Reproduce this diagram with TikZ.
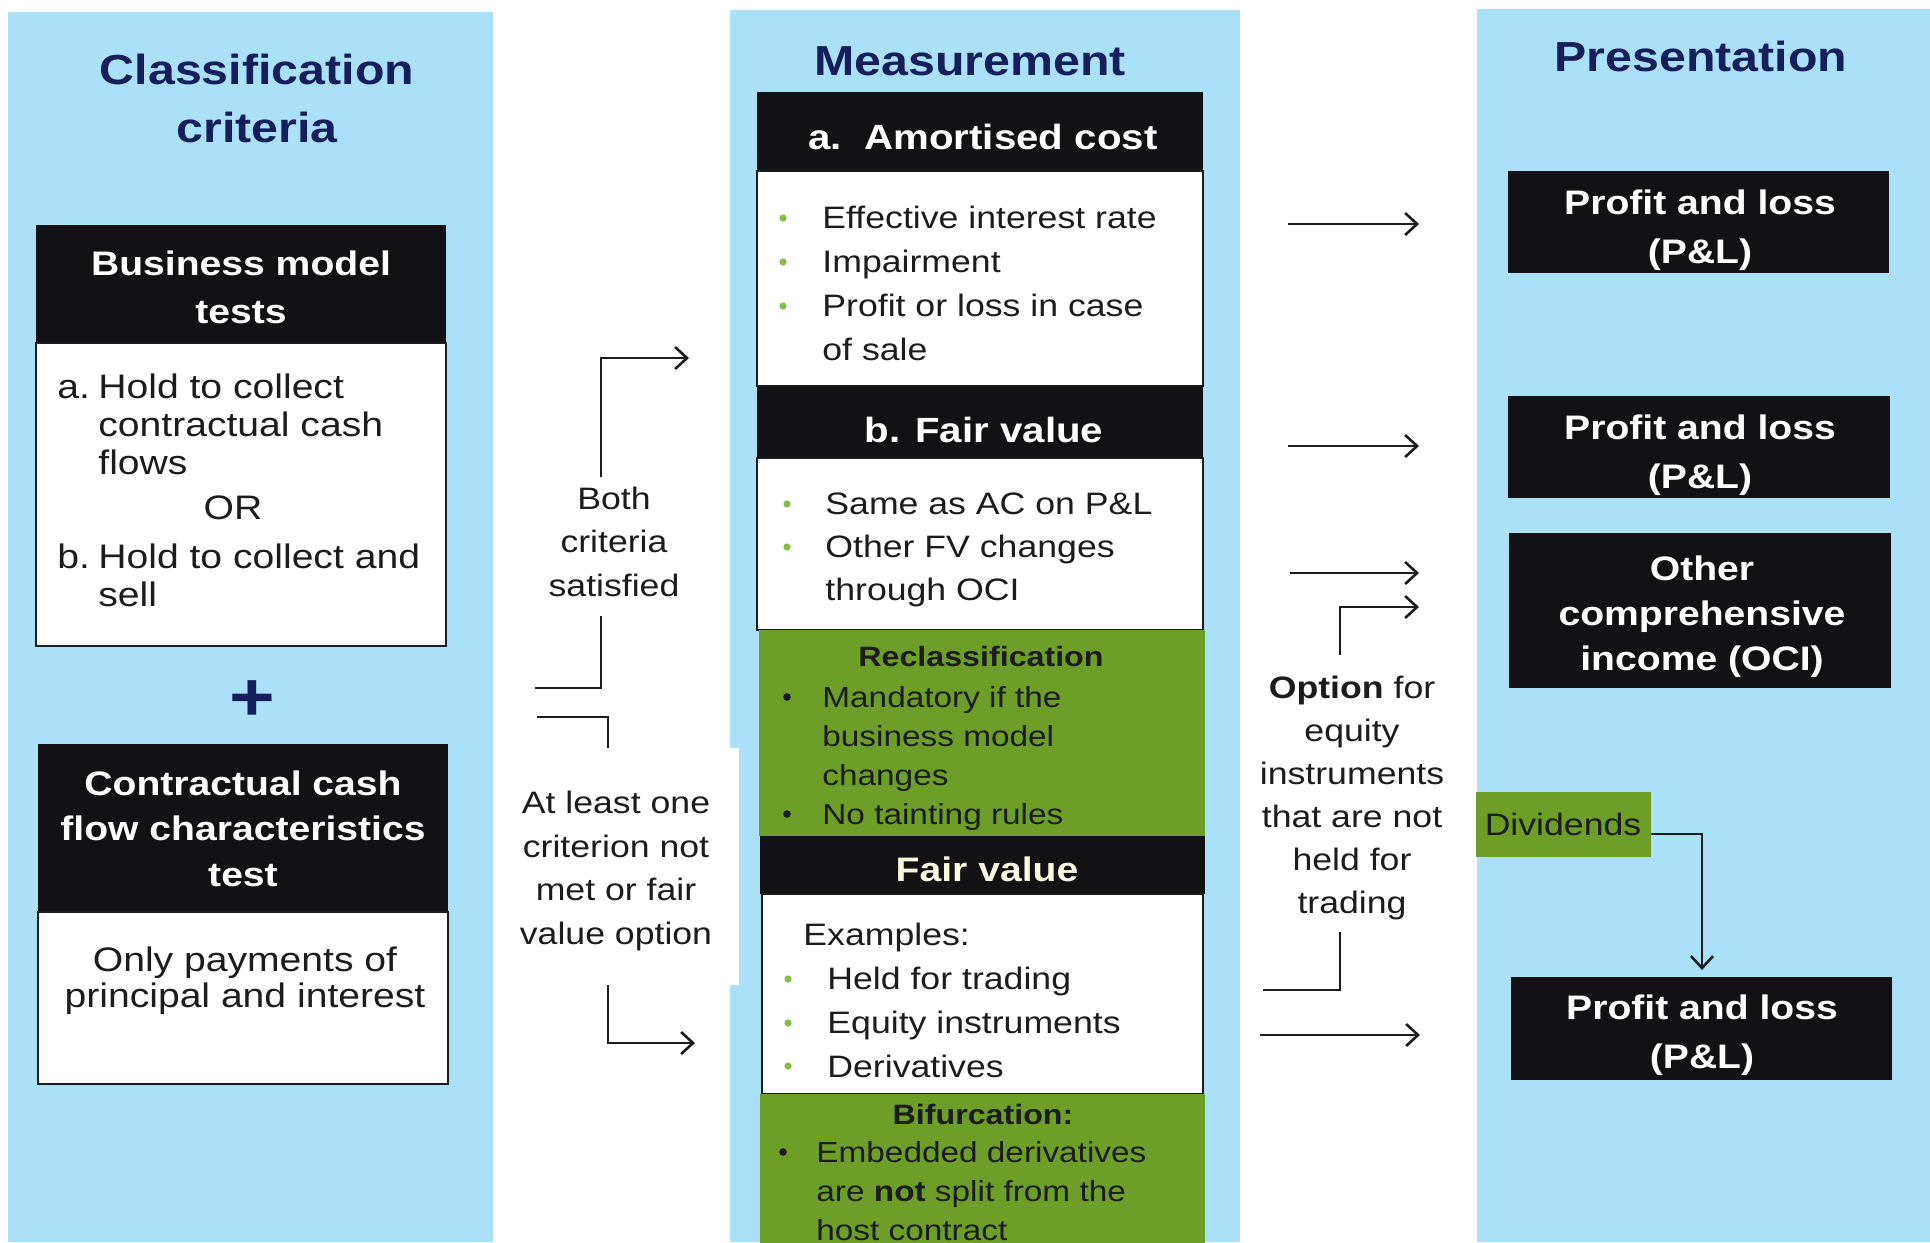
\documentclass[tikz,border=0pt]{standalone}
\usepackage{fontspec}
\setmainfont[FakeStretch=1.15]{Liberation Sans}
\usetikzlibrary{arrows.meta}
\definecolor{panelblue}{RGB}{170,225,248}
\definecolor{navy}{RGB}{22,30,92}
\definecolor{boxblack}{RGB}{18,18,20}
\definecolor{fgreen}{RGB}{108,158,40}
\definecolor{dotgreen}{RGB}{130,190,70}
\definecolor{cream}{RGB}{250,248,222}
\definecolor{ink}{RGB}{28,28,28}
\newcommand\fs[2]{\fontsize{#1}{#2}\selectfont}
\newcommand\rectnode[6]{\node[#1, inner sep=0pt, outer sep=0pt, minimum width={(#5-#3)*0.5pt}, minimum height={(#6-#4)*0.5pt}] (#2) at ({(#3+#5)/2},{(#4+#6)/2}) {};}
\tikzset{
  blackbox/.style={fill=boxblack, draw=none},
  whitebox/.style={fill=white, draw=ink, line width=1.1pt},
  greenbox/.style={fill=fgreen, draw=none},
  title/.style={text=navy, font=\fs{21}{29}\bfseries, align=center, inner sep=0pt},
  hdr/.style={text=white, font=\fs{17}{24}\bfseries, align=center, inner sep=0pt},
  lbody/.style={text=ink, font=\fs{17}{19}, inner sep=0pt},
  mhdr/.style={text=white, font=\fs{17.5}{22}\bfseries, align=center, inner sep=0pt},
  mbody/.style={text=ink, font=\fs{15.5}{22}, inner sep=0pt},
  ghdr/.style={text=ink, font=\fs{14}{19.5}\bfseries, align=center, inner sep=0pt},
  gbody/.style={text=ink, font=\fs{14.5}{19.5}, inner sep=0pt},
  fvhdr/.style={text=cream, font=\fs{17}{22}\bfseries, align=center, inner sep=0pt},
  free/.style={text=ink, font=\fs{15.5}{21.7}, align=center, inner sep=0pt},
  rhdr/.style={text=white, font=\fs{17}{24.5}\bfseries, align=center, inner sep=0pt},
  conn/.style={draw=ink, line width=1.3pt},
  arr/.style={conn, -{Straight Barb[length=6pt,width=11pt]}},
  gdot/.style={fill=dotgreen},
  kdot/.style={fill=ink},
}
\begin{document}
\begin{tikzpicture}[x=0.5pt,y=-0.5pt]
\useasboundingbox (0,0) rectangle (1930,1242);
\clip (0,0) rectangle (1930,1242);
\fill[white] (0,0) rectangle (1930,1242);
% panels
\fill[panelblue] (8,12) rectangle (493,1242);
\fill[panelblue] (730,10) rectangle (1240,1242);
\fill[panelblue] (1477,9) rectangle (1930,1242);
\fill[white] (728,748) rectangle (739,985);
% titles (base anchor = baseline of last line)
\node[title, anchor=base] (tcl) at (257,142) {Classification\\criteria};
\node[title, anchor=base] (tme) at (970,75) {Measurement};
\node[title, anchor=base] (tpr) at (1701,71) {Presentation};
% left column
\rectnode{blackbox}{bmh}{36}{225}{446}{343}
\rectnode{whitebox}{bmb}{36}{343}{446}{646}
\node[hdr, anchor=base] (bmt) at (241,323) {Business model\\tests};
\node[lbody, anchor=base west] (la) at (57,398) {a.};
\node[lbody, anchor=base west, align=left] (lat) at (98,474) {Hold to collect\\contractual cash\\flows};
\node[lbody, anchor=base] (lor) at (233,519) {OR};
\node[lbody, anchor=base west] (lb) at (57,568) {b.};
\node[lbody, anchor=base west, align=left] (lbt) at (98,606) {Hold to collect and\\sell};
\node[text=navy, font=\fs{34}{34}\bfseries, inner sep=0pt] (plus) at (252,701) {+};
\rectnode{blackbox}{cch}{38}{744}{448}{912}
\rectnode{whitebox}{ccb}{38}{912}{448}{1084}
\node[hdr, font=\fs{17}{22.75}\bfseries, anchor=base] (cct) at (243,886) {Contractual cash\\flow characteristics\\test};
\node[lbody, font=\fs{17}{18}, align=center, anchor=base] (lop) at (245,1007) {Only payments of\\principal and interest};
% middle column
\rectnode{blackbox}{ha}{757}{92}{1203}{171}
\node[mhdr, anchor=base] (hat) at (983,149) {a.\ \ Amortised cost};
\rectnode{whitebox}{ba}{757}{171}{1203}{386}
\node[mbody, anchor=base west, align=left] (bat) at (822,360) {Effective interest rate\\Impairment\\Profit or loss in case\\of sale};
\fill[gdot] (783,218) circle (3.6);
\fill[gdot] (783,262) circle (3.6);
\fill[gdot] (783,306) circle (3.6);
\rectnode{blackbox}{hb}{757}{386}{1203}{458}
\node[mhdr, anchor=base] (hbt) at (984,442) {b. Fair value};
\rectnode{whitebox}{bb}{757}{458}{1203}{630}
\node[mbody, font=\fs{15.5}{21.5}, anchor=base west, align=left] (bbt) at (825,600) {Same as AC on P\&L\\Other FV changes\\through OCI};
\fill[gdot] (787,504) circle (3.6);
\fill[gdot] (787,547) circle (3.6);
\rectnode{greenbox}{gr}{759}{630}{1205}{836}
\node[ghdr, anchor=base] (grt) at (981,666) {Reclassification};
\node[gbody, anchor=base west, align=left] (grb) at (822,824) {Mandatory if the\\business model\\changes\\No tainting rules};
\fill[kdot] (787,697) circle (3.8);
\fill[kdot] (787,814) circle (3.8);
\rectnode{blackbox}{hf}{760}{836}{1205}{894}
\node[fvhdr, anchor=base] (hft) at (987,881) {Fair value};
\rectnode{whitebox}{bf}{762}{894}{1203}{1094}
\node[mbody, anchor=base west] (bfx) at (803,945) {Examples:};
\node[mbody, anchor=base west, align=left] (bft) at (827,1077) {Held for trading\\Equity instruments\\Derivatives};
\fill[gdot] (788,979) circle (3.6);
\fill[gdot] (788,1023) circle (3.6);
\fill[gdot] (788,1066) circle (3.6);
\rectnode{greenbox}{gb}{760}{1094}{1205}{1250}
\node[ghdr, anchor=base] (gbt) at (983,1124) {Bifurcation:};
\node[gbody, anchor=base west, align=left] (gbb) at (816,1240) {Embedded derivatives\\are \textbf{not} split from the\\host contract};
\fill[kdot] (783,1152) circle (3.8);
% free texts between columns
\node[free, anchor=base] (both) at (614,596) {Both\\criteria\\satisfied};
\node[free, anchor=base] (least) at (616,944) {At least one\\criterion not\\met or fair\\value option};
\node[free, font=\fs{15.5}{21.5}, anchor=base] (opt) at (1352,913) {\textbf{Option} for\\equity\\instruments\\that are not\\held for\\trading};
% left connectors
\coordinate (c1a) at (601,477); \coordinate (c1b) at (689,358);
\draw[arr] (c1a) |- (c1b);
\coordinate (c2a) at (601,616); \coordinate (c2b) at (535,688);
\draw[conn] (c2a) |- (c2b);
\coordinate (c3a) at (537,717); \coordinate (c3b) at (608,748);
\draw[conn] (c3a) -| (c3b);
\coordinate (c4a) at (608,985); \coordinate (c4b) at (695,1043);
\draw[arr] (c4a) |- (c4b);
% right column
\rectnode{blackbox}{pl1}{1508}{171}{1889}{273}
\node[rhdr, anchor=base] (pl1t) at (1700,263) {Profit and loss\\(P\&L)};
\rectnode{blackbox}{pl2}{1508}{396}{1890}{498}
\node[rhdr, anchor=base] (pl2t) at (1700,488) {Profit and loss\\(P\&L)};
\rectnode{blackbox}{oci}{1509}{533}{1891}{688}
\node[rhdr, font=\fs{17}{22.5}\bfseries, anchor=base] (ocit) at (1702,670) {Other\\comprehensive\\income (OCI)};
\rectnode{greenbox}{dv}{1476}{792}{1651}{857}
\node[free, anchor=base] (dvt) at (1563,835) {Dividends};
\rectnode{blackbox}{pl3}{1511}{977}{1892}{1080}
\node[rhdr, anchor=base] (pl3t) at (1702,1068) {Profit and loss\\(P\&L)};
% right connectors
\coordinate (r1a) at (1288,224); \coordinate (r1b) at (1419,224);
\draw[arr] (r1a) -- (r1b);
\coordinate (r2a) at (1288,446); \coordinate (r2b) at (1419,446);
\draw[arr] (r2a) -- (r2b);
\coordinate (r3a) at (1290,573); \coordinate (r3b) at (1419,573);
\draw[arr] (r3a) -- (r3b);
\coordinate (r4a) at (1340,655); \coordinate (r4b) at (1419,607);
\draw[arr] (r4a) |- (r4b);
\coordinate (r5a) at (1340,932); \coordinate (r5b) at (1263,990);
\draw[conn] (r5a) |- (r5b);
\coordinate (r6a) at (1260,1035); \coordinate (r6b) at (1420,1035);
\draw[arr] (r6a) -- (r6b);
\coordinate (d1) at (1651,834); \coordinate (d2) at (1702,970);
\draw[arr] (d1) -| (d2);
\end{tikzpicture}
\end{document}
